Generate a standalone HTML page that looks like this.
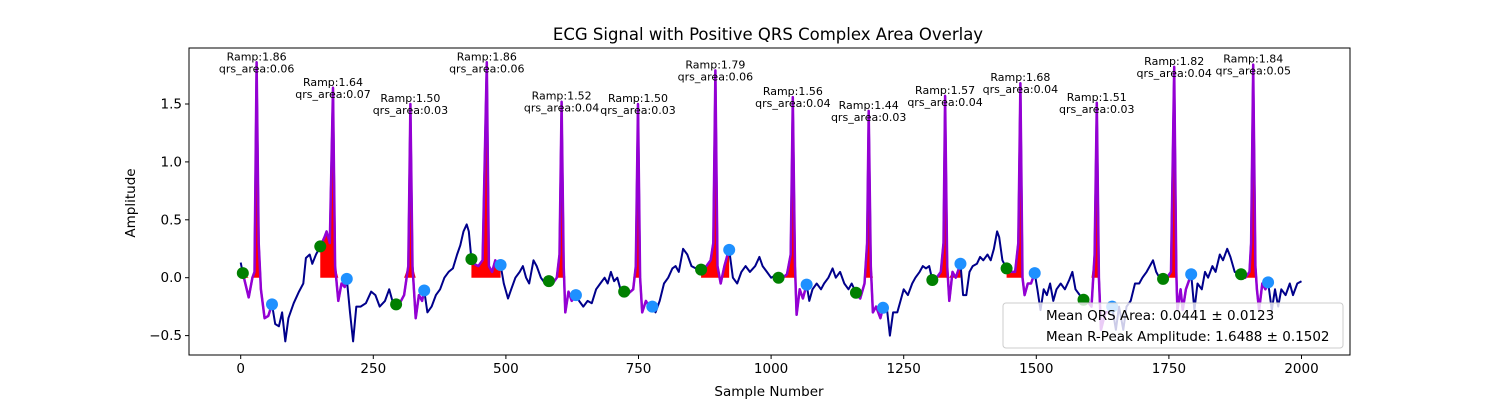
<!DOCTYPE html>
<html><head><meta charset="utf-8"><style>
body{margin:0;background:#fff;}
svg text{font-family:"DejaVu Sans","Liberation Sans",sans-serif;}
</style></head><body>
<svg id="chart" width="1500" height="400" xmlns="http://www.w3.org/2000/svg">
<rect width="1500" height="400" fill="#fff"/>
<text x="768" y="40" font-size="16.5" text-anchor="middle">ECG Signal with Positive QRS Complex Area Overlay</text>
<text x="769" y="396" font-size="13.5" text-anchor="middle">Sample Number</text>
<text x="135" y="203" font-size="13.5" text-anchor="middle" transform="rotate(-90 135 203)">Amplitude</text>
<g id="plot"></g>
<g id="ticks"></g>
<rect x="189" y="48" width="1161" height="307" fill="none" stroke="#000" stroke-width="1"/>
<g>
<rect x="1003" y="303" width="340" height="45" rx="3" fill="#fff" fill-opacity="0.8" stroke="#ccc"/>
<text x="1046" y="320" font-size="13.5">Mean QRS Area: 0.0441 ± 0.0123</text>
<text x="1046" y="341" font-size="13.5">Mean R-Peak Amplitude: 1.6488 ± 0.1502</text>
</g>
</svg>
<script>
const samples=[0,4,15,22,26,30,34,38,45,52,59,65,72,78,84,90,100,110,118,123,130,135,142,150,158,162,168,174,178,184,190,196,200,206,212,218,226,236,246,254,262,272,280,286,293,300,308,316,320,324,330,336,342,346,352,360,368,376,384,392,400,408,414,420,426,430,435,440,448,456,464,468,474,480,486,490,496,504,510,518,526,532,538,544,552,558,566,574,581,588,596,601,605,609,612,618,624,632,638,646,654,662,670,678,686,692,698,704,710,716,723,730,740,745,749,753,757,764,770,776,782,790,798,806,814,820,826,834,842,850,858,868,878,886,891,895,899,905,912,918,921,928,936,944,952,960,970,978,984,992,1000,1008,1014,1022,1030,1037,1041,1045,1048,1054,1060,1067,1072,1078,1086,1094,1100,1108,1116,1122,1130,1138,1146,1152,1160,1168,1176,1181,1184,1188,1192,1198,1206,1211,1218,1224,1230,1238,1244,1250,1258,1266,1272,1280,1286,1292,1298,1304,1312,1320,1325,1328,1332,1336,1342,1348,1357,1362,1368,1374,1380,1388,1394,1400,1408,1414,1420,1426,1430,1436,1444,1452,1460,1466,1470,1474,1478,1484,1490,1497,1502,1508,1514,1520,1526,1532,1538,1546,1554,1562,1568,1574,1582,1589,1596,1604,1610,1614,1618,1622,1630,1636,1643,1650,1656,1664,1670,1678,1686,1694,1700,1708,1714,1720,1726,1732,1739,1746,1754,1760,1764,1766,1772,1776,1782,1792,1798,1804,1812,1818,1824,1832,1838,1846,1852,1860,1866,1874,1886,1894,1902,1905,1909,1913,1916,1920,1926,1932,1937,1944,1950,1956,1962,1970,1978,1984,1992,2000];
const signal=[0.13,0.04,-0.17,0.0,0.05,1.86,0.3,-0.1,-0.35,-0.33,-0.23,-0.4,-0.42,-0.3,-0.55,-0.35,-0.22,-0.12,-0.05,0.17,0.2,0.12,0.2,0.27,0.35,0.4,0.3,1.64,0.1,-0.2,-0.05,-0.08,-0.01,-0.3,-0.55,-0.25,-0.25,-0.22,-0.12,-0.15,-0.25,-0.2,-0.1,-0.2,-0.23,-0.22,-0.15,0.1,1.50,0.1,-0.35,-0.15,-0.2,-0.11,-0.3,-0.25,-0.15,-0.1,0.0,0.05,0.08,0.2,0.28,0.4,0.46,0.4,0.16,0.12,0.1,0.15,1.86,0.1,0.05,0.15,0.08,0.11,-0.05,-0.18,-0.1,0.0,0.05,0.1,0.0,-0.05,0.15,0.1,0.0,-0.05,-0.03,-0.05,0.0,0.2,1.52,0.1,-0.3,-0.12,-0.2,-0.15,-0.2,-0.25,-0.2,-0.22,-0.1,-0.05,0.0,-0.05,0.05,-0.03,0.0,-0.1,-0.12,-0.14,-0.1,0.1,1.50,0.0,-0.3,-0.2,-0.25,-0.25,-0.3,-0.2,-0.05,0.0,0.08,0.1,0.05,0.25,0.2,0.1,0.08,0.07,0.1,0.15,0.3,1.79,0.1,-0.05,0.1,0.2,0.24,0.0,-0.05,0.05,0.1,0.05,0.1,0.18,0.1,0.05,0.0,0.02,0.0,0.0,0.03,0.2,1.56,0.1,-0.32,-0.1,-0.18,-0.06,-0.2,-0.1,-0.05,-0.1,-0.05,0.0,0.08,0.0,0.05,-0.05,-0.1,-0.05,-0.13,-0.18,-0.05,0.3,1.44,0.1,-0.3,-0.25,-0.35,-0.26,-0.25,-0.5,-0.3,-0.3,-0.2,-0.1,-0.15,-0.05,0.0,0.05,0.1,0.08,0.1,-0.02,0.0,0.05,0.3,1.57,0.1,-0.2,0.05,0.0,0.12,-0.15,-0.15,0.05,0.1,0.12,0.18,0.15,0.2,0.15,0.25,0.4,0.35,0.15,0.08,0.05,0.05,0.3,1.68,0.0,-0.15,-0.05,-0.05,0.04,-0.1,-0.28,-0.1,-0.15,-0.05,-0.2,-0.1,-0.05,-0.1,-0.02,0.05,-0.1,-0.15,-0.19,-0.2,-0.25,0.2,1.51,0.0,-0.45,-0.3,-0.3,-0.25,-0.45,-0.25,-0.45,-0.25,-0.2,-0.05,-0.05,0.0,0.05,0.1,0.15,0.05,0.0,-0.01,0.0,0.05,1.82,0.05,-0.28,-0.1,-0.28,-0.1,0.03,-0.28,-0.05,-0.1,0.05,0.0,0.1,0.05,0.2,0.15,0.25,0.18,0.05,0.03,0.0,0.05,0.3,1.84,0.1,-0.1,-0.28,-0.05,-0.1,-0.04,-0.28,-0.1,-0.25,-0.1,-0.15,-0.05,-0.15,-0.05,-0.03];
const peaks=[30,174,320,464,605,749,895,1041,1184,1328,1470,1614,1760,1909];
const peakAmps=["1.86","1.64","1.50","1.86","1.52","1.50","1.79","1.56","1.44","1.57","1.68","1.51","1.82","1.84"];
const qrsAreas=["0.06","0.07","0.03","0.06","0.04","0.03","0.06","0.04","0.03","0.04","0.04","0.03","0.04","0.05"];
const onsets=[4,150,293,435,581,723,868,1014,1160,1304,1444,1589,1739,1886];
const offsets=[59,200,346,490,632,776,921,1067,1211,1357,1497,1643,1792,1937];
const xTicks=[0,250,500,750,1000,1250,1500,1750,2000];
const yTicks=[-0.5,0,0.5,1.0,1.5];
const yTickLabels=["\u22120.5","0.0","0.5","1.0","1.5"];

const NS="http://www.w3.org/2000/svg";
const X=s=>240.7+s*0.5304;
const Y=v=>277.7-v*115.8;
function mk(tag,attrs,parent){const e=document.createElementNS(NS,tag);for(const k in attrs)e.setAttribute(k,attrs[k]);parent.appendChild(e);return e;}
const plot=document.getElementById('plot');
const ticks=document.getElementById('ticks');
function valAt(s){for(let i=0;i<samples.length-1;i++){if(s>=samples[i]&&s<=samples[i+1]){const t=(s-samples[i])/(samples[i+1]-samples[i]||1);return signal[i]+t*(signal[i+1]-signal[i]);}}return signal[signal.length-1];}
function segPts(a,b){const pts=[[a,valAt(a)]];samples.forEach((s,i)=>{if(s>a&&s<b)pts.push([s,signal[i]]);});pts.push([b,valAt(b)]);return pts;}
onsets.forEach((a,k)=>{const pts=segPts(a,offsets[k]);let d='M'+X(a)+','+Y(0);pts.forEach(p=>{d+=' L'+X(p[0])+','+Y(Math.max(p[1],0));});d+=' L'+X(offsets[k])+','+Y(0)+' Z';
const f=mk('path',{d:d,fill:'#ff0000',stroke:'none'},plot);

});
let d='';samples.forEach((s,i)=>{d+=(i?' L':'M')+X(s).toFixed(1)+','+Y(signal[i]).toFixed(1);});
const line=mk('path',{d:d,fill:'none',stroke:'#00008b','stroke-width':2,'stroke-linejoin':'round'},plot);


onsets.forEach((a,k)=>{const pts=segPts(a,offsets[k]);const dd=pts.map((p,i)=>(i?'L':'M')+X(p[0]).toFixed(1)+','+Y(p[1]).toFixed(1)).join(' ');
const q=mk('path',{d:dd,fill:'none',stroke:'#9400d3','stroke-width':2.5,'stroke-linejoin':'round'},plot);

});
onsets.forEach(s=>{const c=mk('circle',{cx:X(s),cy:Y(valAt(s)),r:6,fill:'#008000'},plot);

});
offsets.forEach(s=>{const c=mk('circle',{cx:X(s),cy:Y(valAt(s)),r:6,fill:'#1e90ff'},plot);

});
peaks.forEach((s,k)=>{const py=Y(parseFloat(peakAmps[k]));
const t1=mk('text',{x:X(s),y:py-2,'font-size':11,'text-anchor':'middle'},plot);t1.textContent='Ramp:'+peakAmps[k];


const t2=mk('text',{x:X(s),y:py+10,'font-size':11,'text-anchor':'middle'},plot);t2.textContent='qrs_area:'+qrsAreas[k];

});
xTicks.forEach(v=>{mk('line',{x1:X(v),x2:X(v),y1:355,y2:359,stroke:'#000'},ticks);
const t=mk('text',{x:X(v),y:373,'font-size':13.5,'text-anchor':'middle'},ticks);t.textContent=String(v);

});
yTicks.forEach((v,i)=>{mk('line',{x1:185,x2:189,y1:Y(v),y2:Y(v),stroke:'#000'},ticks);
const t=mk('text',{x:182,y:Y(v)+4.5,'font-size':13.5,'text-anchor':'end'},ticks);t.textContent=yTickLabels[i];

});
</script>
</body></html>
